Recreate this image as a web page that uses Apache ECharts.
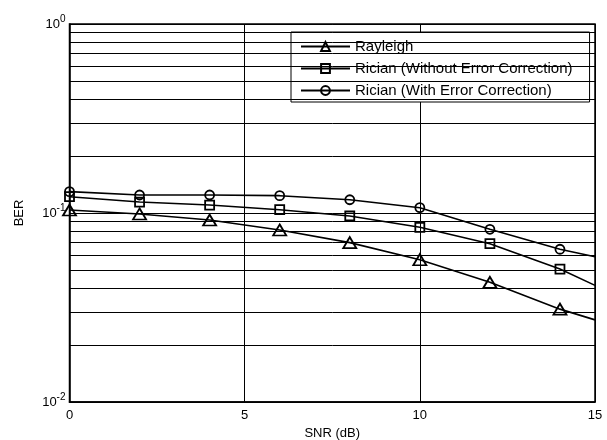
<!DOCTYPE html>
<html>
<head>
<meta charset="utf-8">
<script src="https://cdn.jsdelivr.net/npm/echarts@6/dist/echarts.min.js"></script>
<style>
html,body{margin:0;padding:0;background:#fff;}
#chart{width:607px;height:440px;}
</style>
</head>
<body>
<div id="chart"></div>
<script>
const snr = [0, 2, 4, 6, 8, 10, 12, 14, 15];
const rayleigh = [0.1037, 0.0988, 0.0918, 0.0813, 0.0697, 0.0566, 0.0430, 0.0310, 0.0272];
const ricianNoEC = [0.1220, 0.1143, 0.1102, 0.1041, 0.0964, 0.0840, 0.0688, 0.0505, 0.0414];
const ricianEC = [0.1297, 0.1245, 0.1245, 0.1235, 0.1175, 0.1067, 0.0820, 0.0643, 0.0587];
const seriesNames = ['Rayleigh', 'Rician (Without Error Correction)', 'Rician (With Error Correction)'];
const xTicks = [0, 5, 10, 15];
const minorGrid = [0.02, 0.03, 0.04, 0.05, 0.06, 0.07, 0.08, 0.09, 0.2, 0.3, 0.4, 0.5, 0.6, 0.7, 0.8, 0.9];

const FONT = 'Liberation Sans, Arial, sans-serif';

function build(vals) {
  return snr.map((x, i) => {
    const item = { value: [x, vals[i]] };
    if (x === 15) item.symbol = 'none';
    return item;
  });
}

const common = {
  type: 'line',
  showAllSymbol: true,
  lineStyle: { color: '#000', width: 1.6 },
  itemStyle: { color: 'rgba(255,255,255,0)', borderColor: '#000', borderWidth: 1.8 },
  emphasis: { disabled: true },
  animation: false,
  z: 5
};

const chart = echarts.init(document.getElementById('chart'), null, { renderer: 'canvas' });
chart.setOption({
  backgroundColor: '#fff',
  animation: false,
  grid: {
    left: 69.5, right: 12, top: 24, bottom: 38,
    outerBoundsMode: 'none',
    containLabel: false,
    show: true, borderColor: '#000', borderWidth: 1.5, backgroundColor: 'transparent'
  },
  legend: {
    left: 291, top: 32,
    orient: 'vertical',
    backgroundColor: '#fff',
    borderColor: '#000', borderWidth: 1,
    padding: [7, 17, 4, 9],
    itemWidth: 49, itemHeight: 11, itemGap: 7,
    textStyle: { fontFamily: FONT, fontSize: 15, color: '#000' },
    data: seriesNames
  },
  xAxis: {
    type: 'value',
    min: 0, max: 15, interval: 5,
    name: 'SNR (dB)',
    nameLocation: 'middle',
    nameGap: 24,
    nameTextStyle: { fontFamily: FONT, fontSize: 13, color: '#000' },
    axisLine: { show: true, onZero: false, lineStyle: { color: '#000', width: 1.5 } },
    axisTick: { show: false },
    axisLabel: {
      fontFamily: FONT, fontSize: 13, color: '#000', margin: 7,
      customValues: xTicks,
      showMinLabel: true, showMaxLabel: true
    },
    splitLine: { show: true, lineStyle: { color: '#000', width: 1 } }
  },
  yAxis: {
    type: 'log',
    logBase: 10,
    min: 0.01, max: 1,
    name: 'BER',
    nameLocation: 'middle',
    nameGap: 44,
    nameTextStyle: { fontFamily: FONT, fontSize: 13, color: '#000' },
    axisLine: { show: true, lineStyle: { color: '#000', width: 1.5 } },
    axisTick: { show: false },
    axisLabel: {
      margin: 4,
      showMinLabel: true, showMaxLabel: true,
      padding: [0, 0, 7, 0],
      formatter: function (v) {
        const e = Math.round(Math.log10(v));
        return '{b|10}{s|' + e + '}';
      },
      rich: {
        b: { fontFamily: FONT, fontSize: 13, lineHeight: 13, color: '#000', padding: [7, 0, 0, 0] },
        s: { fontFamily: FONT, fontSize: 10, lineHeight: 10, color: '#000', verticalAlign: 'top' }
      }
    },
    splitLine: { show: true, lineStyle: { color: '#000', width: 1 } }
  },
  series: [
    Object.assign({}, common, {
      name: seriesNames[0],
      symbol: 'triangle', symbolSize: [13, 11],
      data: build(rayleigh),
      markLine: {
        silent: true,
        symbol: 'none',
        label: { show: false },
        lineStyle: { color: '#000', width: 1, type: 'solid' },
        emphasis: { disabled: true },
        animation: false,
        data: minorGrid.map(v => ({ yAxis: v }))
      }
    }),
    Object.assign({}, common, {
      name: seriesNames[1],
      symbol: 'rect', symbolSize: 9,
      data: build(ricianNoEC)
    }),
    Object.assign({}, common, {
      name: seriesNames[2],
      symbol: 'circle', symbolSize: 9,
      data: build(ricianEC)
    })
  ]
});
</script>
</body>
</html>
